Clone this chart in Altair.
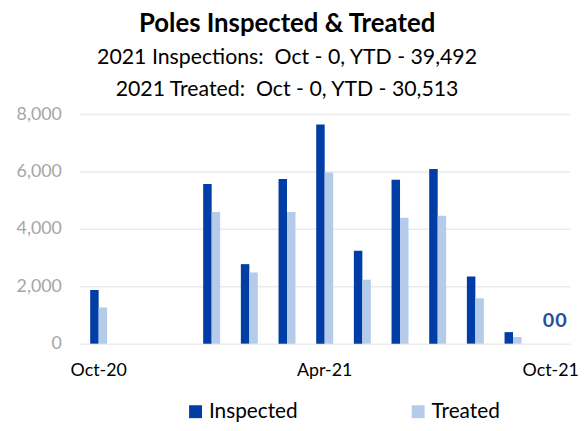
import altair as alt
import pandas as pd

months = ["Oct-20", "Nov-20", "Dec-20", "Jan-21", "Feb-21", "Mar-21", "Apr-21",
          "May-21", "Jun-21", "Jul-21", "Aug-21", "Sep-21", "Oct-21"]
inspected = [1870, 0, 0, 5560, 2770, 5740, 7640, 3240, 5710, 6090, 2340, 402, 0]
treated = [1260, 0, 0, 4590, 2480, 4590, 5960, 2230, 4390, 4460, 1580, 233, 0]
series = ["Inspected", "Treated"]
colors = ["#003DA5", "#B4CBEA"]
shown_labels = ["Oct-20", "Apr-21", "Oct-21"]
y_ticks = [0, 2000, 4000, 6000, 8000]

rows = []
for m, a, b in zip(months, inspected, treated):
    rows.append({"month": m, "series": series[0], "value": a})
    rows.append({"month": m, "series": series[1], "value": b})
df = pd.DataFrame(rows)

FONT = "Lato"
NB = "\u00a0"

x = alt.X("month:N", sort=months, title=None,
          scale=alt.Scale(paddingInner=0.55, paddingOuter=0.29),
          axis=alt.Axis(values=shown_labels, labelAngle=0, ticks=False, domain=False,
                        labelFontSize=18, labelColor="#000000", labelPadding=18,
                        labelFont=FONT))
xo = alt.XOffset("series:N", sort=series, scale=alt.Scale(paddingInner=0, paddingOuter=0))
y = alt.Y("value:Q", title=None,
          scale=alt.Scale(domain=[0, 8000], nice=False),
          axis=alt.Axis(values=y_ticks, format=",d", ticks=False, domain=False,
                        labelFontSize=18, labelColor="#A6A6A6", labelPadding=18,
                        gridColor="#EBEBEB", gridWidth=1.5, labelFont=FONT))

bars = alt.Chart(df).mark_bar().encode(
    x=x, xOffset=xo, y=y,
    color=alt.Color("series:N", sort=series,
                    scale=alt.Scale(domain=series, range=colors),
                    legend=alt.Legend(title=None, orient="none", legendX=107, legendY=290,
                                      direction="horizontal", columns=2, columnPadding=111,
                                      symbolType="square", symbolSize=170,
                                      symbolStrokeWidth=0, labelFontSize=21,
                                      labelFont=FONT, labelColor="#000000", labelOffset=3))
)

lab_i = alt.Chart(df).transform_filter(
    (alt.datum.month == "Oct-21") & (alt.datum.series == "Inspected")
).mark_text(fontWeight="bold", fontSize=20, color="#1F4E9E", dy=-23, dx=2,
            font=FONT, baseline="middle").encode(
    x=alt.X("month:N", sort=months), xOffset=xo, y=alt.Y("value:Q"),
    text=alt.Text("value:Q")
)
lab_t = alt.Chart(df).transform_filter(
    (alt.datum.month == "Oct-21") & (alt.datum.series == "Treated")
).mark_text(fontWeight="bold", fontSize=20, color="#1F4E9E", dy=-23, dx=6,
            font=FONT, baseline="middle").encode(
    x=alt.X("month:N", sort=months), xOffset=xo, y=alt.Y("value:Q"),
    text=alt.Text("value:Q")
)

chart = alt.layer(bars, lab_i, lab_t).properties(
    width=496, height=232,
    autosize=alt.AutoSizeParams(type="none"),
    padding={"left": 72, "top": 105, "right": 9, "bottom": 78},
    title=alt.TitleParams(
        "Poles Inspected & Treated",
        subtitle=["2021 Inspections:" + NB + " Oct - 0, YTD - 39,492",
                  "2021 Treated:" + NB + " Oct - 0, YTD - 30,513"],
        anchor="middle", dx=-38, offset=5,
        font=FONT, fontSize=26, fontWeight="bold", color="#000000",
        subtitleFont=FONT, subtitleFontSize=21.5, subtitleColor="#000000",
        subtitleLineHeight=32, subtitlePadding=10),
).configure_view(stroke=None)

chart.save("out.html", embed_options={"renderer": "svg", "actions": False})
